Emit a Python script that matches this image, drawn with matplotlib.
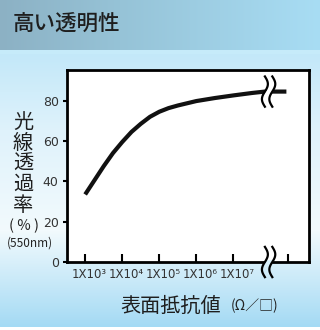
import numpy as np
import matplotlib.pyplot as plt
from matplotlib.colors import to_rgb
from matplotlib.transforms import ScaledTranslation

plt.rcParams['font.family'] = ['Noto Sans CJK JP', 'DejaVu Sans']

# log10 of surface resistance (ohm/sq) and light transmittance (%)
log_r = [3.0, 3.25, 3.5, 3.75, 4.0, 4.25, 4.5, 4.75, 5.0, 5.25, 5.5,
         6.0, 6.5, 7.0, 7.5, 7.85, 8.05, 8.43]
trans = [33.5, 40.5, 47.5, 54, 59.5, 64.5, 68.5, 72, 74.5, 76.3, 77.6,
         79.8, 81.3, 82.6, 83.8, 84.5, 84.5, 84.5]
tick_exp = [3, 4, 5, 6, 7, 8.47]
tick_labels = ['1X10³', '1X10⁴', '1X10⁵', '1X10⁶', '1X10⁷', '']
y_ticks = [0, 20, 40, 60, 80]
break_at = 7.95

W, H = 320, 330
fig = plt.figure(figsize=(W / 100, H / 100), dpi=100)


def grad(pos, stops, cols):
    cols = np.array([to_rgb(c) for c in cols])
    return np.stack([np.interp(pos, stops, cols[:, k]) for k in range(3)], axis=-1)


# background: header band + vertical light blue gradient
img = np.ones((H, W, 3))
rows = np.arange(H)
body = grad(rows, [54, 130, 230, 326], ['#c3e8f9', '#dff2fb', '#f2fafd', '#a4daf4'])
img[:] = body[:, None, :]
img[:50] = grad(np.arange(W), [0, 120, 320], ['#8cb1c4', '#96c3d7', '#a8ddf4'])[None, :, :]
img[50:54] = to_rgb('#c6ebfa')
img[327:] = 1.0
bg = fig.add_axes([0, 0, 1, 1], zorder=-1)
bg.imshow(img, aspect='auto', interpolation='bilinear')
bg.axis('off')
bg_at_axis = img[262, 100]

ax = fig.add_axes([67 / W, 1 - 262 / H, 242 / W, 192 / H])
ax.set_facecolor('white')
ax.set_xscale('log')
ax.set_xlim(10 ** 2.51, 10 ** 9.04)
ax.set_ylim(0, 95.2)

ax.plot(10 ** np.array(log_r), trans, color='#111111', lw=3, solid_capstyle='butt',
        zorder=3, clip_on=False)

for s in ax.spines.values():
    s.set_linewidth(2)
    s.set_color('black')

ax.set_yticks(y_ticks)
ax.tick_params(axis='y', direction='out', length=3, width=1.5, pad=3,
               labelsize=9, labelcolor='#333333')
ax.set_xticks([10 ** e for e in tick_exp], tick_labels)
ax.minorticks_off()
ax.tick_params(axis='x', direction='in', length=6, width=1.5, pad=4,
               labelsize=8.5, labelcolor='#333333')
for lab in ax.get_xticklabels():
    lab.set_fontfamily(['Liberation Sans Narrow', 'DejaVu Sans'])
    lab.set_transform(lab.get_transform() + ScaledTranslation(0.04, 0, fig.dpi_scale_trans))
for lab in ax.get_yticklabels():
    lab.set_fontfamily(['Liberation Sans Narrow', 'DejaVu Sans'])


# axis breaks (double wavy lines)
def wave(c, y0, y1):
    t = np.linspace(0, 1, 60)
    return 10 ** (c + 0.08 * np.sin(2 * np.pi * t)), y0 + (y1 - y0) * t


for (y0, y1, fill_lo, fill_hi, fc) in [(92, 77, 77, 92, 'white'),
                                       (7.5, -7.5, -1.2, 1.2, bg_at_axis)]:
    xl, yy = wave(break_at - 0.1, y0, y1)
    xr, _ = wave(break_at + 0.1, y0, y1)
    m = (yy >= fill_lo) & (yy <= fill_hi)
    ax.fill_betweenx(yy[m], xl[m], xr[m], color=fc, lw=0, zorder=4, clip_on=False)
    ax.plot(xl, yy, color='black', lw=1.6, zorder=5, clip_on=False)
    ax.plot(xr, yy, color='black', lw=1.6, zorder=5, clip_on=False)


def px(x, y):
    return x / W, 1 - y / H


fig.text(*px(13, 25), '高い透明性', fontsize=15.5, fontweight='medium', color='#1e1e1e',
         ha='left', va='center')
fig.text(*px(23, 164), '光\n線\n透\n過\n率', fontsize=14.5, color='#1e1e1e',
         ha='center', va='center', linespacing=0.98)
fig.text(*px(24, 226), '( % )', fontsize=10.5, color='#222222', ha='center', va='center')
fig.text(*px(29.5, 243), '(550nm)', fontsize=8.5, color='#222222', ha='center', va='center')
fig.text(*px(170.5, 306), '表面抵抗値', fontsize=14.5, color='#1e1e1e', ha='center', va='center')
fig.text(*px(255, 306), '(Ω／□)', fontsize=10, color='#222222', ha='center', va='center')

fig.savefig('out.png', dpi=100)
